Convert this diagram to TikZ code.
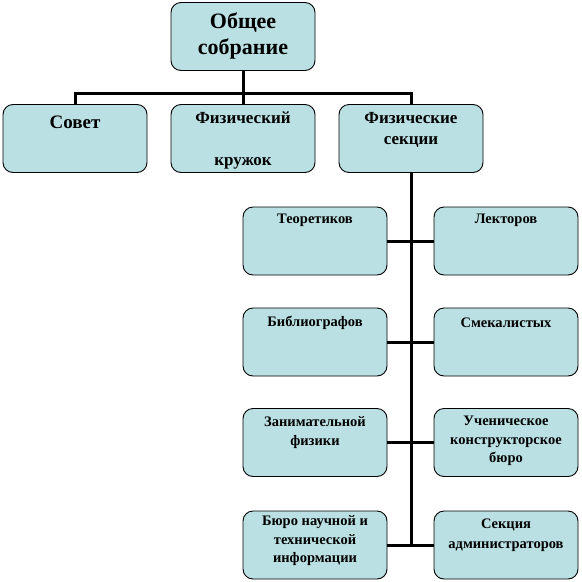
\documentclass[tikz,border=0pt]{standalone}
\usepackage{fontspec}
\setmainfont{Liberation Serif}
\definecolor{boxfill}{RGB}{187,224,227}
\begin{document}
\begin{tikzpicture}[x=1pt,y=-1pt,
  box/.style={draw=black, line width=0.9pt, fill=boxfill, rounded corners=10pt,
    minimum width=144pt, minimum height=68pt, inner sep=0pt},
  conn/.style={draw=black, line width=3pt},
  txt/.style={align=center, inner sep=0pt, font=\bfseries\fontsize{14.5}{18.5}\selectfont},
  txtmid/.style={align=center, inner sep=0pt, font=\bfseries\fontsize{17}{21}\selectfont},
  txtbig/.style={align=center, inner sep=0pt, font=\bfseries\fontsize{22}{26}\selectfont}]
\useasboundingbox (0,0) rectangle (582,582);
% boxes
\node[box] (top) at (243,36.5) {};
\node[box] (sovet) at (75,138.5) {};
\node[box] (fizkr) at (243,138.5) {};
\node[box] (sekcii) at (411,138.5) {};
\node[box] (teor) at (315,241) {};
\node[box] (lekt) at (506,241) {};
\node[box] (bibl) at (315,342) {};
\node[box] (smek) at (506,342) {};
\node[box] (zan) at (315,442.5) {};
\node[box] (uch) at (506,442.5) {};
\node[box] (bur) at (315,545) {};
\node[box] (adm) at (506,545) {};
\coordinate (spineEnd) at (sekcii.south |- bur.east);
% connectors
\draw[conn] (sovet.north) -- ++(0,-11) -| (sekcii.north);
\draw[conn] (top.south) -- (fizkr.north);
\draw[conn] (sekcii.south) -- (spineEnd);
\draw[conn] (teor.east) -- (lekt.west);
\draw[conn] (bibl.east) -- (smek.west);
\draw[conn] (zan.east) -- (uch.west);
\draw[conn] (bur.east) -- (adm.west);
% texts
\node[txtbig] (topT) at (243,36) {Общее\\собрание};
\node[txt, font=\bfseries\fontsize{19}{22}\selectfont] (sovetT) at (75,122) {Совет};
\node[txtmid] (fizkrT) at (243,140) {Физический\\[21pt]кружок};
\node[txtmid] (sekciiT) at (411,129.5) {Физические\\секции};
\node[txt] (teorT) at (315,220) {Теоретиков};
\node[txt] (lektT) at (506,220) {Лекторов};
\node[txt] (biblT) at (315,323) {Библиографов};
\node[txt] (smekT) at (506,323) {Смекалистых};
\node[txt] (zanT) at (315,432.5) {Занимательной\\физики};
\node[txt] (uchT) at (506,441) {Ученическое\\конструкторское\\бюро};
\node[txt] (burT) at (315,541) {Бюро научной и\\технической\\информации};
\node[txt, font=\bfseries\fontsize{14.5}{20}\selectfont] (admT) at (506,535) {Секция\\администраторов};
\end{tikzpicture}
\end{document}
